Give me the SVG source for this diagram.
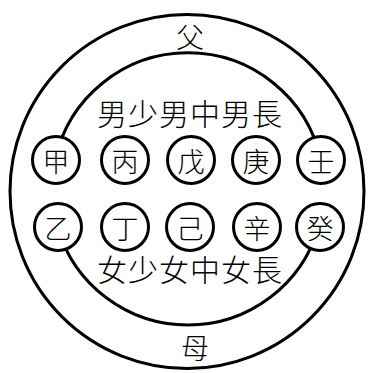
<svg xmlns="http://www.w3.org/2000/svg" width="373" height="373" viewBox="0 0 373 373">
<style>
.ln{fill:none;stroke:#000;stroke-width:3}
.sc{fill:#fff;stroke:#000;stroke-width:3}
text{font-family:"Noto Sans CJK TC","Noto Sans CJK SC",sans-serif;font-weight:300;fill:#000;text-anchor:middle;dominant-baseline:central}
.big{font-size:30px;letter-spacing:1px}
.lbl{font-size:28px}
.stem{font-size:27px}
</style>
<rect width="373" height="373" fill="#fff"/>
<g id="connectors">
<circle class="ln" cx="187" cy="191.5" r="177"/>
<path class="ln" d="M55.1 160 A136 136 0 0 1 320.9 160"/>
<path class="ln" d="M57.4 227 A136 136 0 0 0 318.6 227"/>
</g>
<g id="father"><text class="lbl" x="190" y="36">父</text></g>
<g id="mother"><text class="lbl" x="195" y="347">母</text></g>
<g id="sons"><text class="big" x="190" y="112">男少男中男長</text></g>
<g id="daughters"><text class="big" x="190" y="268">女少女中女長</text></g>
<g id="jia"><circle class="sc" cx="56" cy="160" r="23.5"/><text class="stem" x="56" y="160">甲</text></g>
<g id="bing"><circle class="sc" cx="125" cy="160" r="23.5"/><text class="stem" x="125" y="160">丙</text></g>
<g id="wu"><circle class="sc" cx="191" cy="160" r="23.5"/><text class="stem" x="191" y="160">戊</text></g>
<g id="geng"><circle class="sc" cx="256" cy="160" r="23.5"/><text class="stem" x="256" y="160">庚</text></g>
<g id="ren"><circle class="sc" cx="321" cy="160" r="23.5"/><text class="stem" x="321" y="160">壬</text></g>
<g id="yi"><circle class="sc" cx="58" cy="227" r="23.5"/><text class="stem" x="58" y="227">乙</text></g>
<g id="ding"><circle class="sc" cx="125" cy="227" r="23.5"/><text class="stem" x="125" y="227">丁</text></g>
<g id="ji"><circle class="sc" cx="190" cy="227" r="23.5"/><text class="stem" x="190" y="227">己</text></g>
<g id="xin"><circle class="sc" cx="257" cy="227" r="23.5"/><text class="stem" x="257" y="227">辛</text></g>
<g id="gui"><circle class="sc" cx="320" cy="227" r="23.5"/><text class="stem" x="320" y="227">癸</text></g>
</svg>
